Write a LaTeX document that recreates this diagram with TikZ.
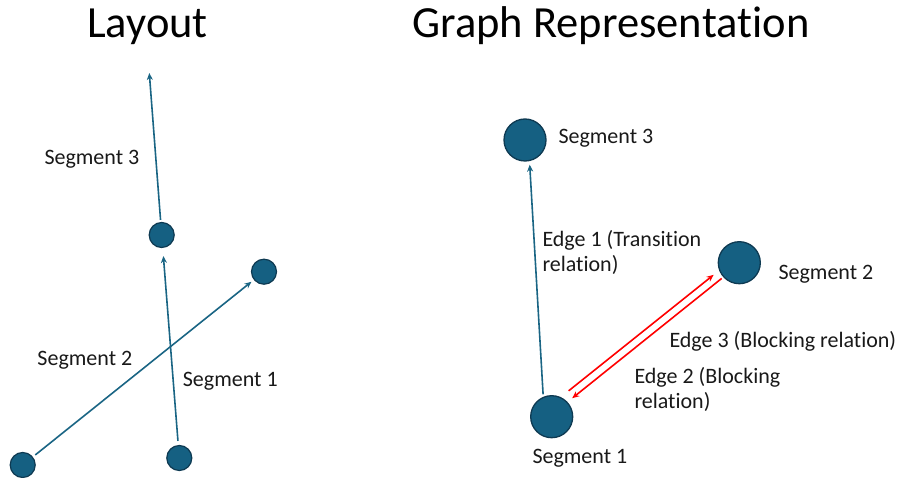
\documentclass[tikz,border=0pt]{standalone}
\usepackage{fontspec}
\setmainfont[RawFeature={-liga;-clig;-dlig;-calt}]{Carlito}
\usetikzlibrary{arrows.meta}
\definecolor{segfill}{HTML}{156082}
\definecolor{segdraw}{HTML}{0E3A52}
\definecolor{segline}{HTML}{1A6584}
\begin{document}
\begin{tikzpicture}[x=1pt,y=-1pt,
  segs/.style={circle,fill=segfill,draw=segdraw,line width=1.2pt,inner sep=0pt,minimum size=25pt},
  segb/.style={circle,fill=segfill,draw=segdraw,line width=1.3pt,inner sep=0pt,minimum size=42pt},
  lbl/.style={anchor=base west,inner sep=0pt,font=\fontsize{22}{25}\selectfont,text=black!90},
  ttl/.style={anchor=base,inner sep=0pt,font=\fontsize{44.5}{48}\selectfont},
  conn/.style={draw=segline,line width=1.6pt,-{Stealth[length=7pt,width=6pt]}},
  redc/.style={draw=red,line width=1.6pt,-{Stealth[length=7pt,width=6pt]}}]
\useasboundingbox (0,0) rectangle (900,478);
% titles
\node[ttl] (t1) at (147.5,38) {Layout};
\node[ttl] (t2) at (611,38) {Graph Represen\kern0pt tation};
% left panel
\node[segs] (a) at (161.7,235) {};
\node[segs] (b) at (264,271.7) {};
\node[segs] (c) at (179.3,458) {};
\node[segs] (d) at (22.7,465) {};
\coordinate (top) at (149.3,73);
\draw[conn,shorten <=2pt] (a) -- (top);
\draw[conn,shorten <=4pt,shorten >=8pt] (c) -- (a);
\draw[conn,shorten <=3pt,shorten >=3pt] (d) -- (b);
\node[lbl] (l3) at (44.3,164.3) {Segment 3};
\node[lbl] (l2) at (37.3,366) {Segment 2};
\node[lbl] (l1) at (182.7,386) {Segment 1};
% right panel
\node[segb] (s3) at (525,140) {};
\node[segb] (s2) at (739.3,262.7) {};
\node[segb] (s1) at (551.7,416.7) {};
\draw[conn,shorten <=2.5pt,shorten >=3.5pt] (s1.113) -- (s3.-78);
\draw[redc,shorten <=10pt,shorten >=7pt] (s1.65) -- (s2.201);
\draw[redc,shorten <=2pt,shorten >=6pt] (s2.222) -- (s1.43);
\node[lbl] (r3) at (558.3,143.3) {Segment 3};
\node[lbl] (r2) at (778.3,279.3) {Segment 2};
\node[lbl] (r1) at (532.3,463.3) {Segment 1};
\node[lbl] (e1a) at (542.3,246.7) {Edge 1 (Transi\kern0pt tion};
\node[lbl] (e1b) at (542.3,271.7) {relation)};
\node[lbl] (e3) at (669.3,347.3) {Edge 3 (Blocking relation)};
\node[lbl] (e2a) at (634.3,383.3) {Edge 2 (Blocking};
\node[lbl] (e2b) at (634.3,408.3) {relation)};
\end{tikzpicture}
\end{document}
